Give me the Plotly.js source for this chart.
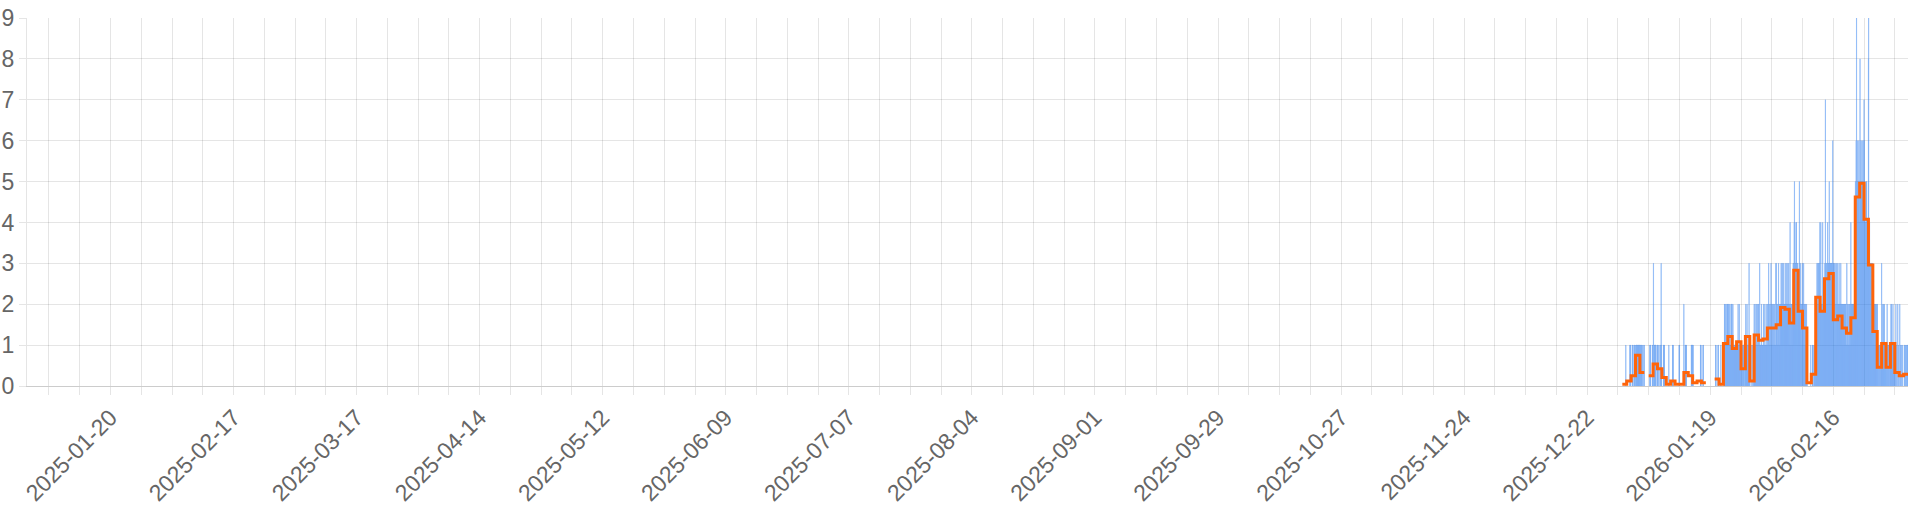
<!DOCTYPE html>
<html>
<head>
<meta charset="utf-8">
<script src="https://cdn.plot.ly/plotly-3.0.1.min.js"></script>
<style>
  html, body { margin: 0; padding: 0; background: #fff; }
  #chart { width: 1920px; height: 512px; }
</style>
</head>
<body>
<div id="chart"></div>
<script>
// one entry per day: the day, its daily mean (orange) and its 24 hourly counts (blue)
const days = [
  '2025-12-30', '2025-12-31', '2026-01-01', '2026-01-02', '2026-01-03', '2026-01-04',
  '2026-01-05', '2026-01-06', '2026-01-07', '2026-01-08', '2026-01-09', '2026-01-10',
  '2026-01-11', '2026-01-12', '2026-01-13', '2026-01-14', '2026-01-15', '2026-01-16',
  '2026-01-17', '2026-01-18', '2026-01-19', '2026-01-20', '2026-01-21', '2026-01-22',
  '2026-01-23', '2026-01-24', '2026-01-25', '2026-01-26', '2026-01-27', '2026-01-28',
  '2026-01-29', '2026-01-30', '2026-01-31', '2026-02-01', '2026-02-02', '2026-02-03',
  '2026-02-04', '2026-02-05', '2026-02-06', '2026-02-07', '2026-02-08', '2026-02-09',
  '2026-02-10', '2026-02-11', '2026-02-12', '2026-02-13', '2026-02-14', '2026-02-15',
  '2026-02-16', '2026-02-17', '2026-02-18', '2026-02-19', '2026-02-20', '2026-02-21',
  '2026-02-22', '2026-02-23', '2026-02-24', '2026-02-25', '2026-02-26', '2026-02-27',
  '2026-02-28', '2026-03-01', '2026-03-02', '2026-03-03', '2026-03-04'
];

const dailyMean = [
  0.04, 0.125, 0.25, 0.75, 0.33, null,
  0.25, 0.54, 0.42, 0.21, 0.04, 0.125,
  0.04, 0.04, 0.33, 0.25, 0.08, 0.125,
  0.08, null, null, 0.17, 0.04, 1.04,
  1.21, 0.92, 1.08, 0.42, 1.21, 0.125,
  1.25, 1.12, 1.15, 1.42, 1.42, 1.5,
  1.92, 1.88, 1.54, 2.83, 1.83, 1.42,
  0.08, 0.29, 2.17, 1.83, 2.62, 2.75,
  1.62, 1.71, 1.42, 1.29, 1.67, 4.62,
  4.96, 4.08, 2.96, 1.33, 0.46, 1.04,
  0.46, 1.04, 0.33, 0.25, 0.29
];

// hourly counts, one digit per hour 00..23
const hourlyCounts = [
  '000000000000000000010000', '000000000000000001001010', '000000001110000000011100',
  '000111111100111111011111', '000011100011100000000011', '000000000000000000000000',
  '000000011100000000001110', '003000011111111100000001', '011100000000001100003110',
  '000000000111110000000000', '000000000000001000000000', '000000000001110000000000',
  '000000000000000000000010', '100000000000000000000000', '200000001111110000000000',
  '000000000000000001111110', '011000000000000000000000', '000000000000000000011100',
  '000000000110000000000000', '000000000000000000000000', '000000000000000000000000',
  '000000110000000000011000', '000000000010000000000000', '000011212111121111121122',
  '112111211112111101211221', '111121110011111101111011', '110111112111111211111011',
  '000011100001111110000011', '112111111211111111113110', '000000010000001000000100',
  '211112111111211112111121', '121111311111111121111101', '111211111121111111211111',
  '112121131111211112113111', '211121112111211121111113', '312112111211131121112111',
  '221312223122131222312212', '122231222132221232221312', '121141121211122211121321',
  '233452332232344323322232', '212222253121223121111222', '311211321112112111211121',
  '010000000000000000000100', '000000011100000011110000', '122212232222323222322324',
  '212142122212214211212212', '223227223322223224322232', '335323323232332323233623',
  '213121312113121121312112', '312121213121221213122121', '121212112121212112121211',
  '113111211121101211211121', '412122112221221211222121', '454446494455465445546444',
  '458455465455465455465455', '764545434444535443444344', '893233423323223323232322',
  '312121211212112121121112', '200101001001001010010010', '311111210112111211011101',
  '100100201001001010001001', '111211211101112111111101', '000100200010000020001000',
  '000200010000100000100000', '000010010001000100010011'
];

const xRange = ['2025-01-01', '2026-03-05'];
const DAY = 86400000;

// blue bars: one bar per hour with a count
var barX = [], barY = [];
days.forEach((d, i) => {
  for (var h = 0; h < 24; h++) {
    var v = Number(hourlyCounts[i][h]);
    if (v > 0) {
      barX.push(d + ' ' + String(h).padStart(2, '0') + ':00');
      barY.push(v);
    }
  }
});

// orange steps: each day is a flat segment from its midnight to the next
var lineX = [], lineY = [];
days.forEach((d, i) => {
  var v = dailyMean[i];
  if (v === null) return;
  var t0 = Date.parse(d + 'T00:00:00Z');
  lineX.push(t0, t0 + DAY);
  lineY.push(v, v);
  if (i === days.length - 1 || dailyMean[i + 1] === null) {
    lineX.push(t0 + DAY);
    lineY.push(null);
  }
});

var grid = 'rgba(0,0,0,0.1)';

var hourly = {
  type: 'bar',
  x: barX,
  y: barY,
  width: 3600000 * 0.8,
  opacity: 0.6,
  marker: {
    color: 'rgb(45,125,240)',
    line: { width: 0.6, color: 'rgb(45,125,240)' }
  },
  hoverinfo: 'x+y'
};

var daily = {
  type: 'scatter',
  mode: 'lines',
  x: lineX,
  y: lineY,
  connectgaps: false,
  line: { color: 'rgb(255,100,10)', width: 3 },
  hoverinfo: 'x+y'
};

var layout = {
  width: 1920,
  height: 512,
  margin: { l: 27, r: 12, t: 18, b: 126 },
  paper_bgcolor: '#fff',
  plot_bgcolor: '#fff',
  showlegend: false,
  bargap: 0.2,
  font: { family: 'Liberation Sans, Arial, sans-serif', size: 23, color: '#666' },
  xaxis: {
    type: 'date',
    range: xRange,
    tick0: '2025-01-20',
    dtick: 28 * DAY,
    tickformat: '%Y-%m-%d',
    tickangle: -45,
    ticks: 'outside',
    ticklen: 8,
    tickcolor: grid,
    showgrid: true,
    gridcolor: grid,
    showline: true,
    linecolor: 'rgba(0,0,0,0.2)',
    zeroline: false,
    minor: {
      tick0: '2025-01-06',
      dtick: 7 * DAY,
      showgrid: true,
      gridcolor: grid,
      ticks: 'outside',
      ticklen: 8,
      tickcolor: grid
    }
  },
  yaxis: {
    range: [0, 9],
    dtick: 1,
    ticks: 'outside',
    ticklen: 7,
    tickcolor: grid,
    showgrid: true,
    gridcolor: grid,
    showline: true,
    linecolor: grid,
    zeroline: false
  }
};

Plotly.newPlot('chart', [hourly, daily], layout, { displayModeBar: false });
</script>
</body>
</html>
